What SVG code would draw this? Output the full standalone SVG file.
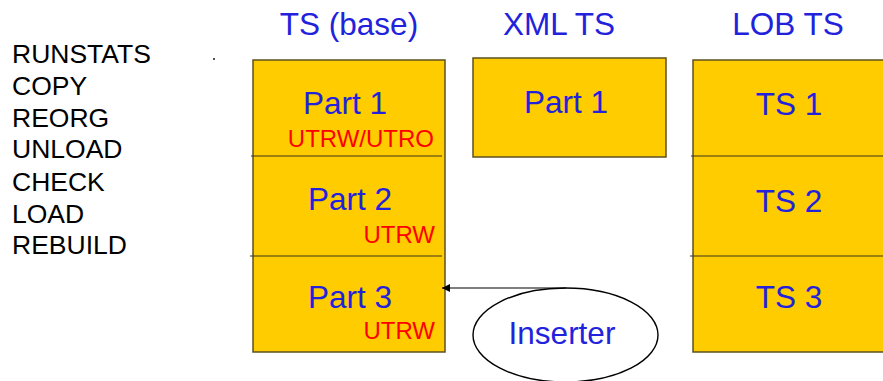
<svg xmlns="http://www.w3.org/2000/svg" width="883" height="381" viewBox="0 0 883 381">
  <style>
    .box { fill: #FFCC00; stroke: #5C5020; stroke-width: 1.5; }
    .div { stroke: #3A3520; stroke-width: 1.2; }
    .title { font-family: "Liberation Sans", Arial, sans-serif; font-size: 31.5px; fill: #2222DD; text-anchor: middle; }
    .lbl { font-family: "Liberation Sans", Arial, sans-serif; font-size: 31.5px; fill: #2222DD; text-anchor: middle; }
    .util { font-family: "Liberation Sans", Arial, sans-serif; font-size: 24px; fill: #FF0000; text-anchor: end; }
    .list { font-family: "Liberation Sans", Arial, sans-serif; font-size: 26.5px; fill: #000000; }
    .conn { stroke: #000000; stroke-width: 1.2; fill: none; }
  </style>
  <defs>
    <marker id="arrow" viewBox="0 0 10 10" refX="10" refY="5" markerWidth="8" markerHeight="8" markerUnits="userSpaceOnUse" orient="auto">
      <path d="M0,0 L10,5 L0,10 z" fill="#000000"/>
    </marker>
  </defs>

  <rect width="883" height="381" fill="#FFFFFF"/>

  <!-- utility list -->
  <g id="utilities">
    <text class="list" x="12" y="63">RUNSTATS</text>
    <text class="list" x="12" y="95">COPY</text>
    <text class="list" x="12" y="127">REORG</text>
    <text class="list" x="12" y="158">UNLOAD</text>
    <text class="list" x="12" y="191">CHECK</text>
    <text class="list" x="12" y="223">LOAD</text>
    <text class="list" x="12" y="254">REBUILD</text>
  </g>
  <rect x="213" y="58" width="2" height="2" fill="#555555"/>

  <!-- base table space -->
  <g id="ts-base">
    <text class="title" x="349" y="35">TS (base)</text>
    <rect class="box" x="253" y="60" width="192" height="292"/>
    <line class="div" x1="251" y1="156" x2="442" y2="156"/>
    <line class="div" x1="250" y1="256" x2="442" y2="256"/>
    <text class="lbl" x="345" y="114">Part 1</text>
    <text class="util" x="434" y="147">UTRW/UTRO</text>
    <text class="lbl" x="350" y="210">Part 2</text>
    <text class="util" x="435" y="243">UTRW</text>
    <text class="lbl" x="350" y="308">Part 3</text>
    <text class="util" x="435" y="339">UTRW</text>
  </g>

  <!-- XML table space -->
  <g id="ts-xml">
    <text class="title" x="559" y="35">XML TS</text>
    <rect class="box" x="473" y="58" width="193" height="99"/>
    <text class="lbl" x="566" y="113">Part 1</text>
  </g>

  <!-- LOB table spaces -->
  <g id="ts-lob">
    <text class="title" x="788" y="35">LOB TS</text>
    <rect class="box" x="693" y="60" width="192" height="292"/>
    <line class="div" x1="691" y1="156" x2="883" y2="156"/>
    <line class="div" x1="690" y1="256" x2="883" y2="256"/>
    <text class="lbl" x="789" y="115">TS 1</text>
    <text class="lbl" x="789" y="212">TS 2</text>
    <text class="lbl" x="789" y="308">TS 3</text>
  </g>

  <!-- inserter process -->
  <g id="inserter">
    <ellipse cx="565.5" cy="335" rx="92.5" ry="47" fill="#FFFFFF" stroke="#000000" stroke-width="1.4"/>
    <text class="lbl" x="562" y="344">Inserter</text>
  </g>

  <g id="connectors">
    <line class="conn" x1="566" y1="288" x2="442" y2="288" marker-end="url(#arrow)"/>
  </g>
</svg>
